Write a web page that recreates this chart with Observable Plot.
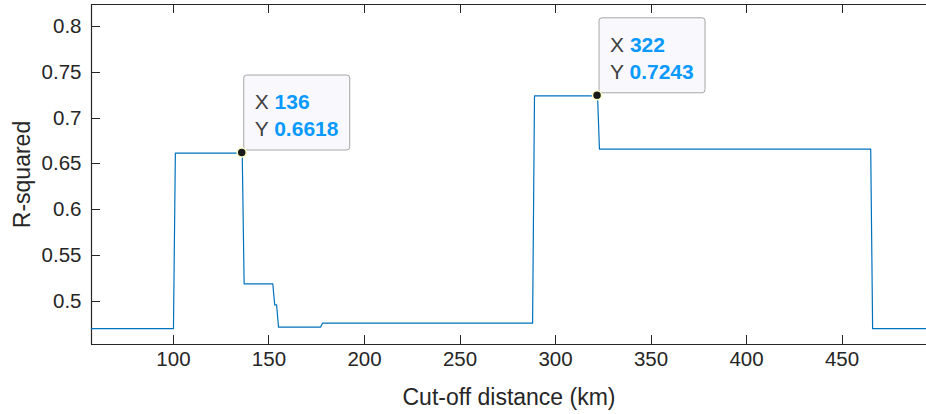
<!DOCTYPE html>
<html>
<head>
<meta charset="utf-8">
<script src="https://cdn.jsdelivr.net/npm/d3@7"></script>
<script src="https://cdn.jsdelivr.net/npm/@observablehq/plot@0.6"></script>
<style>
  html, body { margin: 0; padding: 0; background: #fff; }
  #chart svg { display: block; }
</style>
</head>
<body>
<div id="chart"></div>
<script>
// Cut-off distance (km) and R-squared values
const distance = [57, 100, 101, 136, 137, 152, 153, 154, 155, 177, 178, 288, 289, 322, 323, 465, 466, 494.5];
const rsquared = [0.470, 0.470, 0.6618, 0.6618, 0.519, 0.519, 0.496, 0.496, 0.4716, 0.4716, 0.476, 0.476, 0.7243, 0.7243, 0.666, 0.666, 0.470, 0.470];

// Data tips
const tipX = [136, 322];
const tipY = [0.6618, 0.7243];
const tipXLabel = ["136", "322"];
const tipYLabel = ["0.6618", "0.7243"];

// Axes
const xTicks = [100, 150, 200, 250, 300, 350, 400, 450];
const yTicks = [0.5, 0.55, 0.6, 0.65, 0.7, 0.75, 0.8];
const yTickLabels = ["0.5", "0.55", "0.6", "0.65", "0.7", "0.75", "0.8"];
const xDomain = [57.1, 494.2];
const yDomain = [0.4527, 0.824];
const xTitle = "Cut-off distance (km)";
const yTitle = "R-squared";

const curve = distance.map((d, i) => ({x: d, y: rsquared[i]}));
const tips = tipX.map((d, i) => ({x: d, y: tipY[i], xl: tipXLabel[i], yl: tipYLabel[i]}));

const axisColor = "#262626";
const font = "'Liberation Sans', Arial, Helvetica, sans-serif";
const tickLen = 9;

// inward tick marks, positioned through the plot's scales
function tickMarks(index, scales) {
  const g = d3.create("svg:g").attr("stroke", axisColor).attr("stroke-width", 1);
  const x0 = scales.x(xDomain[0]), y0 = scales.y(yDomain[0]), y1 = scales.y(yDomain[1]);
  for (const t of xTicks) {
    const x = Math.round(scales.x(t)) + 0.5;
    g.append("line").attr("x1", x).attr("x2", x).attr("y1", y0).attr("y2", y0 - tickLen);
    g.append("line").attr("x1", x).attr("x2", x).attr("y1", y1).attr("y2", y1 + tickLen);
  }
  for (const t of yTicks) {
    const y = Math.round(scales.y(t)) + 0.5;
    g.append("line").attr("x1", x0).attr("x2", x0 + tickLen).attr("y1", y).attr("y2", y);
  }
  return g.node();
}

const chart = Plot.plot({
  width: 926,
  height: 414,
  marginLeft: 91,
  marginRight: 0,
  marginTop: 4,
  marginBottom: 70,
  style: {fontFamily: font, fontSize: "20.5px", color: axisColor, background: "#fff", overflow: "visible"},
  x: {domain: xDomain},
  y: {domain: yDomain},
  marks: [
    Plot.axisX({ticks: xTicks, tickSize: 0, tickPadding: 7, label: null, fill: axisColor, fontSize: 20.5}),
    Plot.axisY({ticks: yTicks, tickFormat: (d) => yTickLabels[yTicks.indexOf(d)] ?? String(d), tickSize: 0, tickPadding: 10, label: null, fill: axisColor, fontSize: 20.5}),
    Plot.ruleY([yDomain[1]], {stroke: axisColor, strokeWidth: 1}),
    Plot.ruleY([yDomain[0]], {stroke: axisColor, strokeWidth: 1.2}),
    Plot.ruleX([xDomain[0]], {stroke: axisColor, strokeWidth: 1.2}),
    Plot.dot([0], {x: () => xDomain[0], y: () => yDomain[0], render: tickMarks}),
    Plot.text([xTitle], {frameAnchor: "bottom", lineAnchor: "middle", dy: 53, fontSize: 23, fill: axisColor}),
    Plot.text([yTitle], {frameAnchor: "left", textAnchor: "middle", lineAnchor: "middle", dx: -69, rotate: -90, fontSize: 23, fill: axisColor}),
    Plot.line(curve, {x: "x", y: "y", stroke: "#0072BD", strokeWidth: 1.2}),
    Plot.dot(tips, {
      x: "x", y: "y",
      render(index, scales, values) {
        const g = d3.create("svg:g").attr("text-anchor", "start");
        for (const i of index) {
          const cx = values.x[i], cy = values.y[i];
          const bw = 106, bh = 75;
          const bx = cx + 2, by = cy - 2.5 - bh;
          g.append("rect")
            .attr("x", bx).attr("y", by).attr("width", bw).attr("height", bh)
            .attr("rx", 3).attr("fill", "#f9f9fd").attr("stroke", "#a6a6a6").attr("stroke-width", 1);
          const rows = [["X", tips[i].xl, 34], ["Y", tips[i].yl, 61]];
          for (const [k, v, off] of rows) {
            const t = g.append("text").attr("x", bx + 11).attr("y", by + off)
              .attr("text-anchor", "start").attr("font-size", 21).attr("font-family", font);
            t.append("tspan").attr("fill", "#404040").text(k + " ");
            t.append("tspan").attr("fill", "#0a99ff").attr("font-weight", "bold").text(v);
          }
          g.append("circle").attr("cx", cx).attr("cy", cy).attr("r", 4.5)
            .attr("fill", "#1a1a1a").attr("stroke", "#ffffc8").attr("stroke-width", 1.5);
        }
        return g.node();
      }
    })
  ]
});
document.getElementById("chart").appendChild(chart);
</script>
</body>
</html>
